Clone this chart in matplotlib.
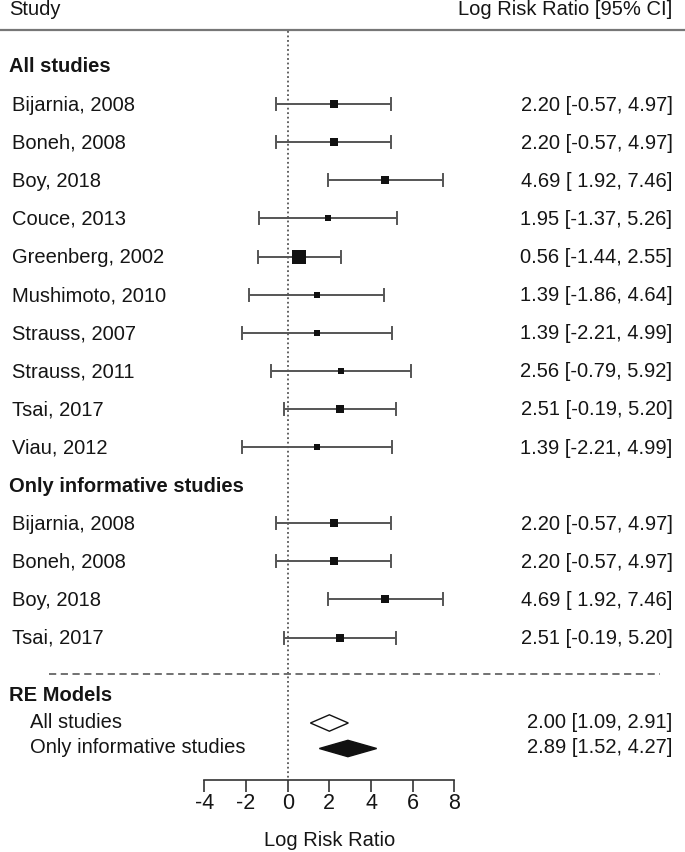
import numpy as np
import matplotlib
matplotlib.use("Agg")
import matplotlib.pyplot as plt
import matplotlib.transforms as mtransforms

plt.rcParams['font.family'] = ['Liberation Sans', 'DejaVu Sans']
plt.rcParams['axes.unicode_minus'] = False

# ---------------- data ----------------
studies_all = ["Bijarnia, 2008", "Boneh, 2008", "Boy, 2018", "Couce, 2013",
               "Greenberg, 2002", "Mushimoto, 2010", "Strauss, 2007",
               "Strauss, 2011", "Tsai, 2017", "Viau, 2012"]
est_all = [2.20, 2.20, 4.69, 1.95, 0.56, 1.39, 1.39, 2.56, 2.51, 1.39]
lo_all = [-0.57, -0.57, 1.92, -1.37, -1.44, -1.86, -2.21, -0.79, -0.19, -2.21]
hi_all = [4.97, 4.97, 7.46, 5.26, 2.55, 4.64, 4.99, 5.92, 5.20, 4.99]
weight_all = [10.5, 10.5, 11.0, 8.0, 21.0, 8.5, 7.3, 7.6, 12.4, 7.3]

studies_inf = ["Bijarnia, 2008", "Boneh, 2008", "Boy, 2018", "Tsai, 2017"]
est_inf = [2.20, 2.20, 4.69, 2.51]
lo_inf = [-0.57, -0.57, 1.92, -0.19]
hi_inf = [4.97, 4.97, 7.46, 5.20]
weight_inf = [11.0, 11.0, 11.3, 12.6]

re_labels = ["All studies", "Only informative studies"]
re_est = [2.00, 2.89]
re_lo = [1.09, 1.52]
re_hi = [2.91, 4.27]

xticks = [-4, -2, 0, 2, 4, 6, 8]
x_label = "Log Risk Ratio"
header_left = "Study"
header_right = "Log Risk Ratio [95% CI]"
group_titles = ["All studies", "Only informative studies", "RE Models"]

# ---------------- layout ----------------
W, H = 685, 852
FS = 14.5
TXT = "#151515"
LINE = "#555555"
px_per_unit = 250 / 12.0
x0_px = 287.7
axis_y = 780

fig = plt.figure(figsize=(W / 100, H / 100), dpi=100)
ax = fig.add_axes([0, (H - axis_y) / H, 1, axis_y / H])
ax.set_xlim(-x0_px / px_per_unit, (W - x0_px) / px_per_unit)
ax.set_ylim(axis_y, 0)
for s in ["top", "left", "right"]:
    ax.spines[s].set_visible(False)
ax.spines["bottom"].set_bounds(xticks[0], xticks[-1])
ax.spines["bottom"].set_color("#333333")
ax.spines["bottom"].set_linewidth(1.2)
ax.set_yticks([])
ax.set_xticks(xticks)
ax.set_xticklabels([str(t) for t in xticks])
ax.tick_params(axis="x", direction="out", length=12 * 0.72, width=1.2,
               color="#333333", labelsize=15.5, labelcolor=TXT, pad=0.5)
ax.patch.set_visible(False)

trans_fx = mtransforms.blended_transform_factory(ax.transAxes, ax.transData)

def px_to_x(p):
    return (p - x0_px) / px_per_unit

row0 = 66
row_h = 38.1
BASE = 6.5  # baseline offset from row center

# header
ax.text(px_to_x(9), 15.3, header_left, fontsize=FS, color=TXT, va="baseline", ha="left")
ax.text(px_to_x(672.5), 15.3, header_right, fontsize=FS, color=TXT, va="baseline", ha="right")
ax.plot([0, 1], [29.5, 29.5], transform=trans_fx, color="#777777", lw=1.6, clip_on=False)

# zero line
ax.plot([0, 0], [31, axis_y], color=LINE, lw=1.3, ls=(0, (1, 1.5)), zorder=1)

k = 14.5 / max(weight_all)  # px per weight unit

def draw_rows(names, est, lo, hi, wts, start_idx):
    ys = [row0 + row_h * (start_idx + i) for i in range(len(names))]
    for name, e, l, h, w, y in zip(names, est, lo, hi, wts, ys):
        ax.plot([l, h], [y, y], color=LINE, lw=1.4, zorder=2, solid_capstyle="butt")
        ax.plot([l, l], [y - 6, y + 6], color=LINE, lw=1.4, zorder=2)
        ax.plot([h, h], [y - 6, y + 6], color=LINE, lw=1.4, zorder=2)
        side_pt = w * k * 0.72
        ax.scatter([e], [y], marker="s", s=side_pt ** 2, color="#111111",
                   linewidths=0, zorder=3)
        ax.text(px_to_x(12), y + BASE, name, fontsize=FS, color=TXT, va="baseline")
        lo_s = f"{l:5.2f}"
        ax.text(px_to_x(672.5), y + BASE, f"{e:.2f} [{lo_s}, {h:.2f}]",
                fontsize=FS, color=TXT, va="baseline", ha="right")

ax.text(px_to_x(9), row0 + BASE, group_titles[0], fontsize=FS, color=TXT,
        va="baseline", fontweight="bold")
draw_rows(studies_all, est_all, lo_all, hi_all, weight_all, 1)
ax.text(px_to_x(9), row0 + row_h * 11 + BASE, group_titles[1], fontsize=FS, color=TXT,
        va="baseline", fontweight="bold")
draw_rows(studies_inf, est_inf, lo_inf, hi_inf, weight_inf, 12)

# dashed separator
ax.plot([49 / W, 660 / W], [674, 674], transform=trans_fx, color="#666666",
        lw=1.3, ls=(0, (4, 2.5)), clip_on=False)

# RE models
ax.text(px_to_x(9), 701, group_titles[2], fontsize=FS, color=TXT, va="baseline",
        fontweight="bold")
re_y = [723, 748.5]
for lab, e, l, h, y, filled in zip(re_labels, re_est, re_lo, re_hi, re_y, [False, True]):
    xs = [l, e, h, e, l]
    ys = [y, y - 8.2, y, y + 8.2, y]
    ax.fill(xs, ys, facecolor="#111111" if filled else "white",
            edgecolor="#111111", lw=1.0, zorder=3)
    ax.text(px_to_x(30), y + 4.5, lab, fontsize=FS, color=TXT, va="baseline")
    ax.text(px_to_x(672.5), y + 4.5, f"{e:.2f} [{l:.2f}, {h:.2f}]",
            fontsize=FS, color=TXT, va="baseline", ha="right")

# x label
ax.text(np.mean([xticks[0], xticks[-1]]), 846, x_label, fontsize=FS, color=TXT,
        ha="center", va="baseline", clip_on=False)

fig.savefig("out.png", dpi=100)
